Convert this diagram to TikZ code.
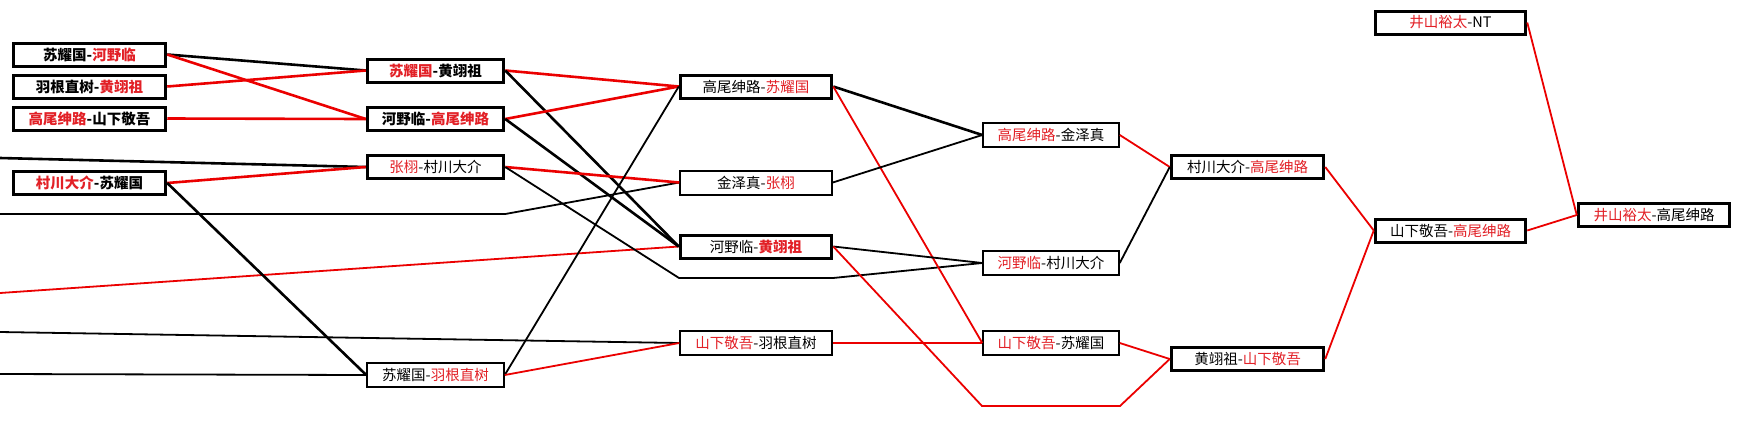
\documentclass[tikz,border=0pt]{standalone}
\usepackage{fontspec}
\setmainfont{Noto Sans CJK SC}
\usepackage{xcolor}
\definecolor{winred}{RGB}{226,32,38}
\definecolor{linered}{RGB}{235,0,0}
\newcommand{\rd}[1]{\textcolor{winred}{#1}}
\tikzset{
  matchbox/.style={draw,line width=2pt,inner sep=0pt,minimum height=24pt,fill=white,
    font=\fontsize{14.5}{17}\selectfont},
  heavybox/.style={matchbox,line width=3pt,minimum height=23pt},
  boldbox/.style={heavybox,font=\fontsize{14.5}{17}\selectfont\bfseries},
  colA/.style={minimum width=152.5pt},
  colB/.style={minimum width=136.5pt},
  colC/.style={minimum width=151.5pt},
  colD/.style={minimum width=135.5pt},
  colE/.style={minimum width=152.5pt},
  colF/.style={minimum width=150.5pt},
  colG/.style={minimum width=151.5pt},
  winline/.style={draw=linered,line width=1.8pt},
  lossline/.style={draw=black,line width=1.8pt},
  heavy/.style={line width=2.6pt}
}

\begin{document}
\begin{tikzpicture}[x=1pt,y=-1pt]
\useasboundingbox[fill=white] (0,0) rectangle (1742,429);
\coordinate (in1) at (0,158);
\coordinate (in2) at (0,214);
\coordinate (in3) at (0,293);
\coordinate (in4) at (0,332);
\coordinate (in5) at (0,374);
\coordinate (lowA) at (679,278);
\coordinate (lowB) at (833,278);
\coordinate (botA) at (982,406);
\coordinate (botB) at (1120,406);

\node[boldbox,colA] (r1a) at (89.5,54.5) {苏耀国-\rd{河野临}};
\node[boldbox,colA] (r1b) at (89.5,86.5) {羽根直树-\rd{黄翊祖}};
\node[boldbox,colA] (r1c) at (89.5,118.5) {\rd{高尾绅路}-山下敬吾};
\node[boldbox,colA] (r1d) at (89.5,183) {\rd{村川大介}-苏耀国};

\node[boldbox,colB] (r2a) at (435.5,70.5) {\rd{苏耀国}-黄翊祖};
\node[boldbox,colB] (r2b) at (435.5,119) {河野临-\rd{高尾绅路}};
\node[heavybox,colB] (r2c) at (435.5,167) {\rd{张栩}-村川大介};
\node[matchbox,colB] (r2d) at (435.5,375) {苏耀国-\rd{羽根直树}};

\node[heavybox,colC] (r3a) at (756,86.5) {高尾绅路-\rd{苏耀国}};
\node[matchbox,colC] (r3b) at (756,182.5) {金泽真-\rd{张栩}};
\node[heavybox,colC] (r3c) at (756,246.5) {河野临-\rd{\bfseries 黄翊祖}};
\node[matchbox,colC] (r3d) at (756,343) {\rd{山下敬吾}-羽根直树};

\node[matchbox,colD] (r4a) at (1051,135) {\rd{高尾绅路}-金泽真};
\node[matchbox,colD] (r4b) at (1051,263) {\rd{河野临}-村川大介};
\node[matchbox,colD] (r4c) at (1051,343) {\rd{山下敬吾}-苏耀国};

\node[heavybox,colE] (r5a) at (1247.5,167) {村川大介-\rd{高尾绅路}};
\node[heavybox,colE] (r5b) at (1247.5,359) {黄翊祖-\rd{山下敬吾}};

\node[heavybox,colF] (r6a) at (1450.5,22.5) {\rd{井山裕太}-NT};
\node[heavybox,colF] (r6b) at (1450.5,230.5) {山下敬吾-\rd{高尾绅路}};

\node[heavybox,colG] (r7a) at (1654,215) {\rd{井山裕太}-高尾绅路};

\draw[lossline,heavy] (in1) -- (r2c.west);
\draw[lossline] (in2) -- (in2 -| r2c.east) -- (r3b.west);
\draw[winline] (in3) -- (r3c.west);
\draw[lossline] (in4) -- (r3d.west);
\draw[lossline] (in5) -- (r2d.west);

\draw[lossline,heavy] (r1a.east) -- (r2a.west);
\draw[winline,heavy] (r1a.east) -- (r2b.west);
\draw[winline,heavy] (r1b.east) -- (r2a.west);
\draw[winline,heavy] (r1c.east) -- (r2b.west);
\draw[winline,heavy] (r1d.east) -- (r2c.west);
\draw[lossline,heavy] (r1d.east) -- (r2d.west);
\draw[winline,heavy] (r2a.east) -- (r3a.west);
\draw[lossline,heavy] (r2a.east) -- (r3c.west);
\draw[winline,heavy] (r2b.east) -- (r3a.west);
\draw[lossline,heavy] (r2b.east) -- (r3c.west);
\draw[winline,heavy] (r2c.east) -- (r3b.west);
\draw[lossline] (r2c.east) -- (lowA) -- (lowB) -- (r4b.west);
\draw[lossline] (r2d.east) -- (r3a.west);
\draw[winline] (r2d.east) -- (r3d.west);
\draw[lossline,heavy] (r3a.east) -- (r4a.west);
\draw[winline] (r3a.east) -- (r4c.west);
\draw[lossline] (r3b.east) -- (r4a.west);
\draw[lossline] (r3c.east) -- (r4b.west);
\draw[winline] (r3c.east) -- (botA) -- (botB) -- (r5b.west);
\draw[winline] (r3d.east) -- (r4c.west);
\draw[winline] (r4a.east) -- (r5a.west);
\draw[lossline] (r4b.east) -- (r5a.west);
\draw[winline] (r4c.east) -- (r5b.west);
\draw[winline] (r5a.east) -- (r6b.west);
\draw[winline] (r5b.east) -- (r6b.west);
\draw[winline] (r6a.east) -- (r7a.west);
\draw[winline] (r6b.east) -- (r7a.west);
\end{tikzpicture}
\end{document}
